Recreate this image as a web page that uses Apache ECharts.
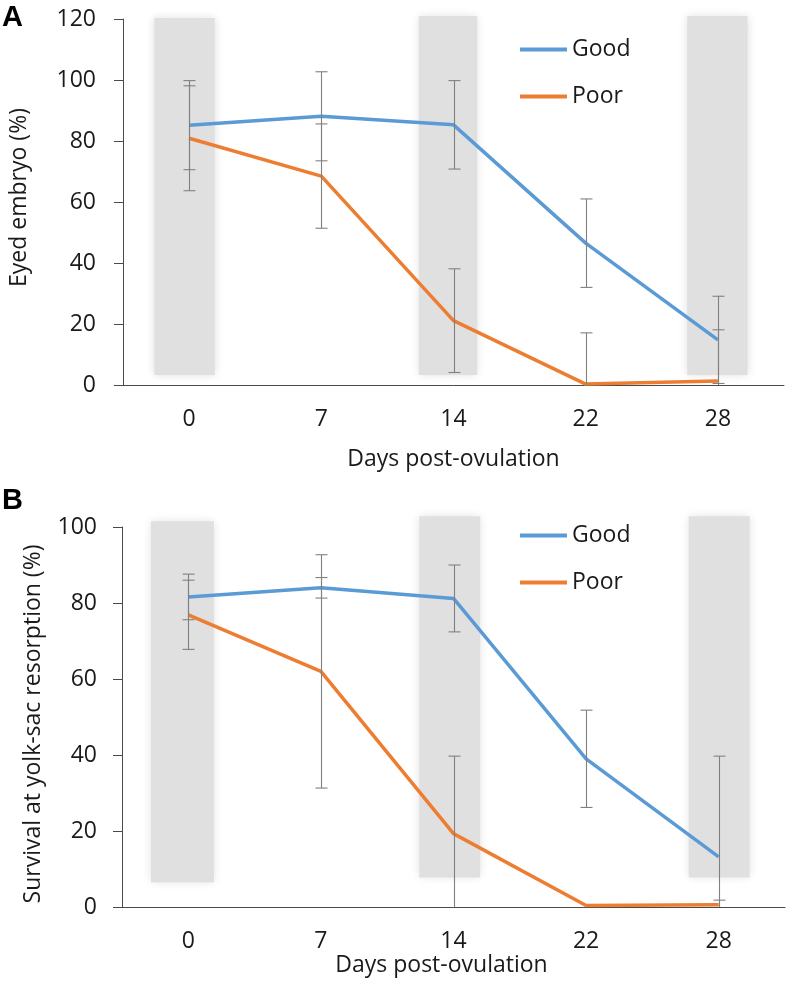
<!DOCTYPE html>
<html><head><meta charset="utf-8">
<script src="https://cdn.jsdelivr.net/npm/echarts@6/dist/echarts.min.js"></script>
<style>html,body{margin:0;padding:0;background:#fff}#c{width:787px;height:986px}</style>
</head><body><div id="c"></div>
<script>
// ---- data ----
const days = ['0', '7', '14', '22', '28'];
const seriesNames = ['Good', 'Poor'];
// Panel A: Eyed embryo (%)
const eyedGood = [85.2, 88.1, 85.3, 46.5, 14.8];
const eyedGoodErr = [14.6, 14.6, 14.5, 14.5, 14.3];
const eyedPoor = [80.9, 68.5, 21.1, 0.3, 1.3];
const eyedPoorErr = [17.2, 17.1, 17.0, 16.8, 16.8];
// Panel B: Survival at yolk-sac resorption (%)
const survGood = [81.6, 84.0, 81.2, 39.0, 13.2];
const survGoodErr = [6.0, 2.7, 8.8, 12.8, 26.5];
const survPoor = [76.9, 62.0, 19.3, 0.4, 0.6];
const survPoorErr = [9.1, 30.7, 20.4, 0, 1.2];
// shaded periods: [category index, from offset, to offset (category units), low, high]
const shadeA = [[0, -0.285, 0.217, 2.3, 121.3], [2, -0.285, 0.202, 2.3, 122], [4, -0.255, 0.247, 2.3, 122]];
const shadeB = [[0, -0.304, 0.216, 5.7, 102.3], [2, -0.281, 0.224, 7.0, 103.6], [4, -0.249, 0.256, 7.0, 103.6]];
const yTicksA = {min: 0, max: 120, interval: 20};
const yTicksB = {min: 0, max: 100, interval: 20};

// ---- helpers ----
const FONT = '"Open Sans", "Noto Sans", sans-serif';
const FS = 23;
const TXT = '#1a1a1a';
const AXIS = '#4a4a4a';
const BLUE = '#5b9bd5', ORANGE = '#ed7d31';

function errData(mean, err) {
  const out = [];
  mean.forEach((m, i) => { if (err[i] > 0) out.push([i, m - err[i], m + err[i]]); });
  return out;
}
function errRender(params, api) {
  const i = api.value(0);
  const top = api.coord([i, api.value(2)]);
  const bot = api.coord([i, api.value(1)]);
  const x = Math.round(top[0]) + 0.5, h = 6;
  const st = {stroke: '#808080', lineWidth: 1.1};
  return {type: 'group', children: [
    {type: 'line', shape: {x1: x, y1: top[1], x2: x, y2: bot[1]}, style: st},
    {type: 'line', shape: {x1: x - h, y1: top[1], x2: x + h, y2: top[1]}, style: st},
    {type: 'line', shape: {x1: x - h, y1: bot[1], x2: x + h, y2: bot[1]}, style: st}
  ]};
}
function shadeRender(params, api) {
  const i = api.value('i');
  const bw = api.size([1, 0])[0];
  const t = api.coord([i, api.value('high')]);
  const b = api.coord([i, api.value('low')]);
  const l = t[0] + api.value('from') * bw, r = t[0] + api.value('to') * bw;
  return {type: 'rect', shape: {x: l + 3, y: t[1] + 3, width: r - l - 6, height: b[1] - t[1] - 6},
    style: {fill: '#e0e0e0', shadowBlur: 9, shadowColor: '#e0e0e0'}};
}
const shadeDims = [{name: 'i', type: 'number'}, {name: 'from', type: 'float'}, {name: 'to', type: 'float'},
  {name: 'low', type: 'float'}, {name: 'high', type: 'float'}];

function xAxis(gridIndex, nameGap, namePad) {
  return {type: 'category', gridIndex, data: days, boundaryGap: true,
    name: 'Days post-ovulation', nameLocation: 'middle', nameGap,
    nameTextStyle: {fontFamily: FONT, fontSize: FS, color: TXT, padding: namePad},
    axisLine: {lineStyle: {color: AXIS, width: 1}}, axisTick: {show: false},
    axisLabel: {fontFamily: FONT, fontSize: FS, color: TXT, margin: 23},
    splitLine: {show: false}};
}
function yAxis(gridIndex, name, ticks, nameGap, margin, namePad) {
  return {type: 'value', gridIndex, min: ticks.min, max: ticks.max, interval: ticks.interval,
    name, nameLocation: 'middle', nameGap,
    nameTextStyle: {fontFamily: FONT, fontSize: FS, color: TXT, padding: namePad},
    axisLine: {show: true, lineStyle: {color: AXIS, width: 1}},
    axisTick: {show: true, inside: false, length: 9, lineStyle: {color: AXIS}},
    axisLabel: {fontFamily: FONT, fontSize: FS, color: TXT, margin},
    splitLine: {show: false}};
}
function legend(top) {
  return {orient: 'vertical', left: 520, top, padding: 0, itemGap: 24,
    itemWidth: 47, itemHeight: 4, icon: 'rect', data: seriesNames,
    textStyle: {fontFamily: FONT, fontSize: 23, color: TXT}};
}
function lineSeries(name, data, xi, color) {
  return {type: 'line', name, data, xAxisIndex: xi, yAxisIndex: xi, color,
    symbol: 'none', lineStyle: {width: 3.5, color}, z: 3, animation: false};
}
function shadeSeries(data, xi) {
  return {type: 'custom', data, dimensions: shadeDims, encode: {x: 'i', y: ['low', 'high']},
    xAxisIndex: xi, yAxisIndex: xi, renderItem: shadeRender, clip: false, z: 1, silent: true, animation: false};
}
function errSeries(data, xi) {
  return {type: 'custom', data, xAxisIndex: xi, yAxisIndex: xi, renderItem: errRender,
    clip: true, z: 4, silent: true, animation: false};
}

const chart = echarts.init(document.getElementById('c'), null, {renderer: 'canvas'});
chart.setOption({
  backgroundColor: '#fff',
  animation: false,
  grid: [
    {left: 117, top: 19, right: 3, bottom: 601},
    {left: 122, top: 527, right: 2, bottom: 79}
  ],
  xAxis: [xAxis(0, 63, [0, 0, 0, 0]), xAxis(1, 42, [0, 24, 0, 0])],
  yAxis: [
    yAxis(0, 'Eyed embryo (%)', yTicksA, 92, 27, [0, 0, 0, 9]),
    yAxis(1, 'Survival at yolk-sac resorption (%)', yTicksB, 77, 25, [0, 14, 0, 0])
  ],
  legend: [legend(38), legend(524)],
  graphic: [
    {type: 'text', left: 2, top: 3, style: {text: 'A', font: 'bold 29px "Liberation Sans", Arial, sans-serif', fill: '#000'}},
    {type: 'text', left: 2, top: 486, style: {text: 'B', font: 'bold 29px "Liberation Sans", Arial, sans-serif', fill: '#000'}}
  ],
  series: [
    shadeSeries(shadeA, 0),
    shadeSeries(shadeB, 1),
    lineSeries('Good', eyedGood, 0, BLUE),
    lineSeries('Poor', eyedPoor, 0, ORANGE),
    lineSeries('Good', survGood, 1, BLUE),
    lineSeries('Poor', survPoor, 1, ORANGE),
    errSeries(errData(eyedGood, eyedGoodErr), 0),
    errSeries(errData(eyedPoor, eyedPoorErr), 0),
    errSeries(errData(survGood, survGoodErr), 1),
    errSeries(errData(survPoor, survPoorErr), 1)
  ]
});
</script></body></html>
